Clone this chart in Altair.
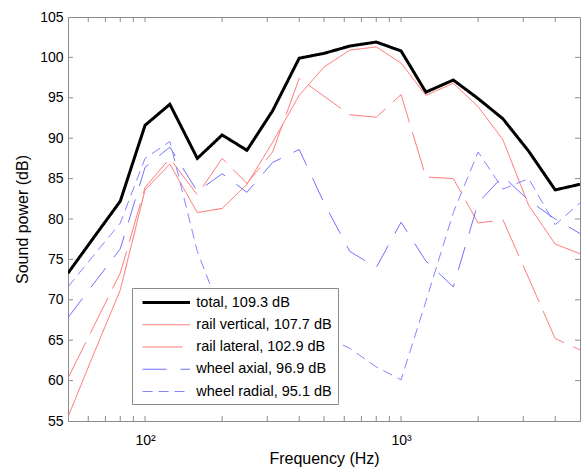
import altair as alt
import pandas as pd

# One-third-octave band centre frequencies (Hz)
freq = [50, 63, 80, 100, 125, 160, 200, 250, 315, 400, 500, 630, 800,
        1000, 1250, 1600, 2000, 2500, 3150, 4000, 5000]

# Sound power per band (dB)
total = [73.3, 77.7, 82.2, 91.6, 94.2, 87.5, 90.4, 88.5, 93.4, 99.9, 100.5,
         101.4, 101.9, 100.8, 95.7, 97.2, 94.9, 92.4, 88.4, 83.6, 84.3]
rail_vertical = [55.5, 63.3, 71.2, 83.6, 86.8, 80.8, 81.3, 84.3, 89.5, 95.3, 98.8,
                 100.9, 101.3, 99.3, 95.3, 96.8, 93.9, 89.8, 81.7, 76.9, 75.7]
rail_lateral = [60.3, 66.7, 73.3, 83.9, 87.5, 83.0, 87.5, 84.4, 88.3, 97.4, 95.2,
                92.9, 92.6, 95.4, 85.2, 85.0, 79.5, 79.9, 72.7, 65.2, 63.8]
wheel_axial = [67.8, 72.0, 76.3, 86.4, 88.9, 83.4, 85.6, 83.3, 87.0, 88.6, 82.0,
               76.0, 74.0, 79.6, 74.8, 71.6, 82.0, 85.3, 82.3, 80.0, 78.2]
wheel_radial = [71.6, 75.5, 79.5, 87.5, 89.6, 76.0, 68.0, 65.5, 64.5, 65.0, 65.5,
                64.0, 61.7, 60.1, 69.8, 80.8, 88.3, 83.7, 85.0, 79.3, 82.0]

series_names = ["total, 109.3 dB", "rail vertical, 107.7 dB", "rail lateral, 102.9 dB",
                "wheel axial, 96.9 dB", "wheel radial, 95.1 dB"]
series_values = [total, rail_vertical, rail_lateral, wheel_axial, wheel_radial]

line_colors = ["#000000", "#ff6a6a", "#ff7c7c", "#7070ff", "#8484ff"]
line_dashes = [[1, 0], [1, 0], [40, 10], [24, 14], [10, 6]]
line_widths = [3, 1, 1, 1, 1]

# Tick positions
x_tick_values = [60, 70, 80, 90, 100, 200, 300, 400, 500, 600, 700, 800, 900,
                 1000, 2000, 3000, 4000]
y_tick_values = [60, 65, 70, 75, 80, 85, 90, 95, 100]

rows = []
for name, vals in zip(series_names, series_values):
    for f, v in zip(freq, vals):
        rows.append({"series": name, "freq": f, "power": v})
df = pd.DataFrame(rows)

W, H = 512, 404
FONT = "Liberation Sans"
FRAME = "#8c8c8c"

xscale = alt.Scale(type="log", domain=[50, 5000], nice=False)
yscale = alt.Scale(domain=[55, 105], nice=False, zero=False)

xaxis = alt.Axis(values=[100, 1000], labelExpr="datum.value == 100 ? '10²' : '10³'",
                 title="Frequency (Hz)", ticks=False, domain=False, grid=False,
                 labelFontSize=14, labelColor="black", labelPadding=12,
                 titleFontSize=16, titleFontWeight="normal", titleColor="black",
                 titlePadding=3)
yaxis = alt.Axis(values=list(range(55, 106, 5)), title="Sound power (dB)",
                 ticks=False, domain=False, grid=False,
                 labelFontSize=14, labelColor="black", labelPadding=5,
                 titleFontSize=16, titleFontWeight="normal", titleColor="black",
                 titlePadding=9)

# Legend sample: a long horizontal stroke drawn from a short nominal symbol,
# so the rows stay compact while the line sample is wide.
legend = alt.Legend(title=None, orient="none", legendX=64, legendY=271,
                    fillColor="white", strokeColor=FRAME, padding=5.5,
                    symbolType="M-0.53,0H5.8", symbolSize=225,
                    labelFontSize=14.5, labelFont=FONT, labelColor="black",
                    labelLimit=300, labelOffset=40.8, rowPadding=7.25)

lines = alt.Chart(df).mark_line(clip=True).encode(
    x=alt.X("freq:Q", scale=xscale, axis=xaxis),
    y=alt.Y("power:Q", scale=yscale, axis=yaxis),
    color=alt.Color("series:N", scale=alt.Scale(domain=series_names, range=line_colors),
                    legend=legend),
    strokeDash=alt.StrokeDash("series:N",
                              scale=alt.Scale(domain=series_names, range=line_dashes),
                              legend=legend),
    strokeWidth=alt.StrokeWidth("series:N",
                                scale=alt.Scale(type="ordinal", domain=series_names,
                                                range=line_widths),
                                legend=legend),
)

xt = pd.DataFrame({"freq": x_tick_values})
yt = pd.DataFrame({"power": y_tick_values})

x_ticks_bottom = alt.Chart(xt).mark_rule(color=FRAME, strokeWidth=1).encode(
    x=alt.X("freq:Q", scale=xscale, axis=xaxis), y=alt.value(H), y2=alt.value(H - 5))
x_ticks_top = alt.Chart(xt).mark_rule(color=FRAME, strokeWidth=1).encode(
    x=alt.X("freq:Q", scale=xscale, axis=xaxis), y=alt.value(0), y2=alt.value(5))
y_ticks_left = alt.Chart(yt).mark_rule(color=FRAME, strokeWidth=1).encode(
    y=alt.Y("power:Q", scale=yscale, axis=yaxis), x=alt.value(0), x2=alt.value(5))
y_ticks_right = alt.Chart(yt).mark_rule(color=FRAME, strokeWidth=1).encode(
    y=alt.Y("power:Q", scale=yscale, axis=yaxis), x=alt.value(W - 5), x2=alt.value(W))

chart = alt.layer(lines, x_ticks_bottom, x_ticks_top, y_ticks_left, y_ticks_right).properties(
    width=W, height=H,
    padding={"left": 68, "top": 17, "right": 3, "bottom": 51},
    autosize=alt.AutoSizeParams(type="none"),
).configure(font=FONT).configure_view(stroke=FRAME, strokeWidth=1)

chart.save("out.html", embed_options={"renderer": "svg", "actions": False})
